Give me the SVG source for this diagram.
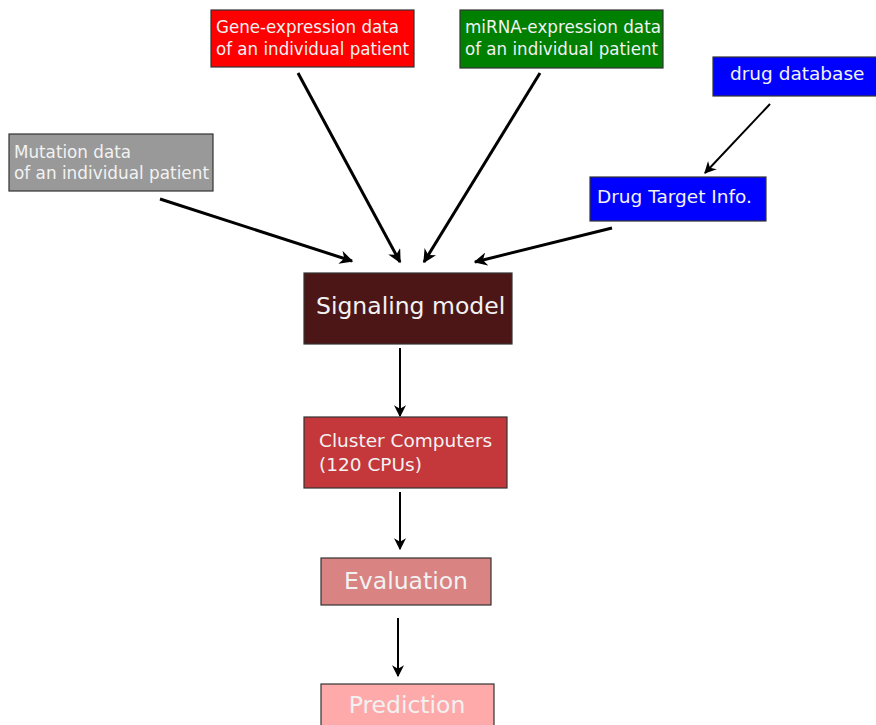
<svg xmlns="http://www.w3.org/2000/svg" width="876" height="725" viewBox="0 0 876 725">
  <defs>
    <marker id="arrow" viewBox="0 0 10 10" refX="9" refY="5" markerWidth="4.5" markerHeight="4.5" markerUnits="strokeWidth" orient="auto">
      <path d="M0,0 L10,5 L0,10 L3,5 Z" fill="#000"/>
    </marker>
    <marker id="arrow-thin" viewBox="0 0 10 10" refX="9" refY="5" markerWidth="6" markerHeight="6" markerUnits="strokeWidth" orient="auto">
      <path d="M0,0 L10,5 L0,10 L3,5 Z" fill="#000"/>
    </marker>
  </defs>
  <style>
    .box { stroke: #333; stroke-width: 1.2; }
    .lbl { font-family: "DejaVu Sans", "Liberation Sans", sans-serif; fill: #f2f2f2; font-size: 17px; }
    .mid { font-size: 18.5px; }
    .big { font-size: 23.5px; }
    .thick { stroke: #000; stroke-width: 3; fill: none; marker-end: url(#arrow); }
    .thin { stroke: #000; stroke-width: 2; fill: none; marker-end: url(#arrow-thin); }
  </style>
  <rect width="876" height="725" fill="#fff"/>

  <g id="connectors">
    <line class="thick" x1="160" y1="199" x2="352" y2="261"/>
    <line class="thick" x1="298" y1="73" x2="400" y2="262"/>
    <line class="thick" x1="540" y1="73" x2="424" y2="262"/>
    <line class="thick" x1="612" y1="228" x2="475" y2="262"/>
    <line class="thin" x1="770" y1="104" x2="705" y2="173"/>
    <line class="thin" x1="400" y1="348" x2="400" y2="416"/>
    <line class="thin" x1="400" y1="492" x2="400" y2="549"/>
    <line class="thin" x1="398" y1="618" x2="398" y2="676"/>
  </g>

  <g id="gene-expression">
    <rect class="box" x="211" y="10" width="203" height="57" fill="#ff0000"/>
    <text class="lbl" x="216" y="33" textLength="183" lengthAdjust="spacingAndGlyphs">Gene-expression data</text>
    <text class="lbl" x="216" y="55" textLength="193" lengthAdjust="spacingAndGlyphs">of an individual patient</text>
  </g>

  <g id="mirna-expression">
    <rect class="box" x="460" y="10" width="203" height="58" fill="#008000"/>
    <text class="lbl" x="465" y="33" textLength="196" lengthAdjust="spacingAndGlyphs">miRNA-expression data</text>
    <text class="lbl" x="465" y="55" textLength="193" lengthAdjust="spacingAndGlyphs">of an individual patient</text>
  </g>

  <g id="mutation">
    <rect class="box" x="9" y="134" width="204" height="57" fill="#999999"/>
    <text class="lbl" x="14" y="158" textLength="117" lengthAdjust="spacingAndGlyphs">Mutation data</text>
    <text class="lbl" x="14" y="179" textLength="195" lengthAdjust="spacingAndGlyphs">of an individual patient</text>
  </g>

  <g id="drug-database">
    <rect class="box" x="713" y="57" width="165" height="39" fill="#0000ff"/>
    <text class="lbl mid" x="730" y="80">drug database</text>
  </g>

  <g id="drug-target">
    <rect class="box" x="590" y="177" width="176" height="44" fill="#0000ff"/>
    <text class="lbl mid" x="597" y="203">Drug Target Info.</text>
  </g>

  <g id="signaling-model">
    <rect class="box" x="304" y="273" width="208" height="71" fill="#4c1616"/>
    <text class="lbl big" x="316" y="314">Signaling model</text>
  </g>

  <g id="cluster">
    <rect class="box" x="304" y="417" width="203" height="71" fill="#c4373a"/>
    <text class="lbl mid" x="319" y="447">Cluster Computers</text>
    <text class="lbl mid" x="319" y="471">(120 CPUs)</text>
  </g>

  <g id="evaluation">
    <rect class="box" x="321" y="558" width="170" height="47" fill="#d98383"/>
    <text class="lbl big" x="406" y="589" text-anchor="middle">Evaluation</text>
  </g>

  <g id="prediction">
    <rect class="box" x="321" y="684" width="173" height="50" fill="#ffaaaa"/>
    <text class="lbl big" x="407" y="713" text-anchor="middle">Prediction</text>
  </g>
</svg>
